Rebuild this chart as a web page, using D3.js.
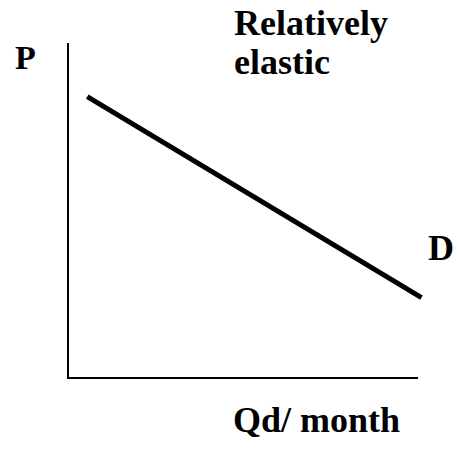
<!DOCTYPE html>
<html>
<head>
<meta charset="utf-8">
<script src="https://cdn.jsdelivr.net/npm/d3@7"></script>
<style>
  body { margin: 0; background: #fff; }
  text { font-family: "Liberation Serif", "Times New Roman", serif; font-weight: bold; fill: #000; }
</style>
</head>
<body>
<svg id="svg1" width="459" height="451"></svg>
<script>
// demand curve, quantity vs price (unitless)
var demandQ = [0.55, 10.1];
var demandP = [8.4, 2.4];

var labels = { price: "P", quantity: "Qd/ month", curve: "D", title: ["Relatively", "elastic"] };

var svg = d3.select("#svg1");

var scaleX = d3.scaleLinear().domain([0, 10]).range([68, 418]);
var scaleY = d3.scaleLinear().domain([0, 10]).range([378, 43]);

// axes, just the bare lines
svg.append("line")
    .attr("x1", scaleX(0)).attr("y1", scaleY(0))
    .attr("x2", scaleX(0)).attr("y2", scaleY(10))
    .attr("stroke", "#000").attr("stroke-width", 2);

svg.append("line")
    .attr("x1", scaleX(0) - 1).attr("y1", scaleY(0))
    .attr("x2", scaleX(10)).attr("y2", scaleY(0))
    .attr("stroke", "#000").attr("stroke-width", 2);

var pts = demandQ.map(function(q, i) { return [q, demandP[i]]; });

svg.append("path")
    .datum(pts)
    .attr("d", d3.line()
        .x(function(d) { return scaleX(d[0]); })
        .y(function(d) { return scaleY(d[1]); }))
    .attr("fill", "none")
    .attr("stroke", "#000")
    .attr("stroke-width", 5);

svg.append("text").attr("x", 15).attr("y", 69).attr("font-size", 34).text(labels.price);
svg.append("text").attr("x", 428).attr("y", 260).attr("font-size", 36).text(labels.curve);
svg.append("text").attr("x", 233).attr("y", 432).attr("font-size", 36).text(labels.quantity);

svg.selectAll(".title")
    .data(labels.title)
    .enter()
    .append("text")
    .attr("class", "title")
    .attr("x", 234)
    .attr("y", function(d, i) { return 35 + i * 39; })
    .attr("font-size", 36)
    .text(function(d) { return d; });
</script>
</body>
</html>
